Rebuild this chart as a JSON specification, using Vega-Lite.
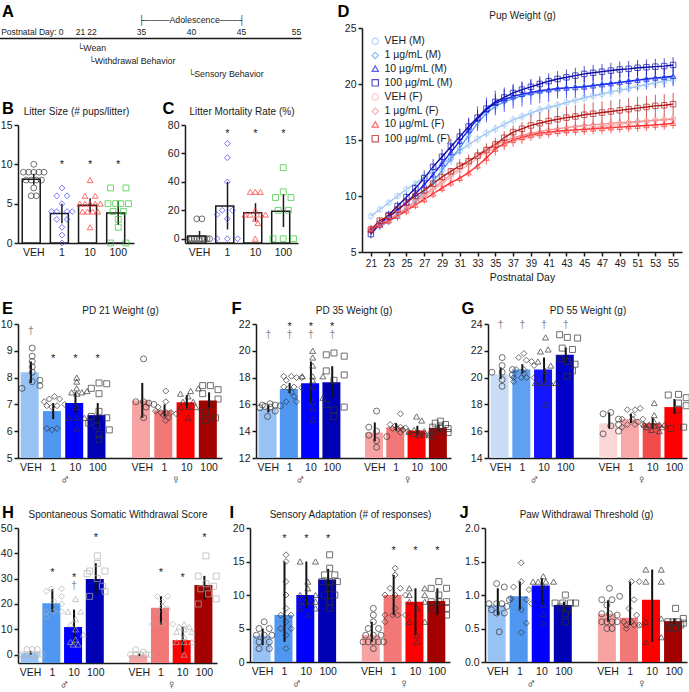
{
"$schema":"https://vega.github.io/schema/vega-lite/v6.json",
"padding":{"left":0,"top":3,"right":0,"bottom":0},
"background":"white",
"config":{
 "font":"Liberation Sans",
 "view":{"stroke":null},
 "axis":{"grid":false,"labelFontSize":10.5,"labelColor":"#1a1a1a","domainColor":"#1a1a1a","tickColor":"#1a1a1a","domainWidth":1.5,"tickWidth":1.5,"tickSize":4,"labelPadding":2,"titleFontWeight":"normal","titleColor":"#1a1a1a","titleFontSize":10.5,"labelOverlap":false},
 "axisY":{"titleAngle":0,"titleFontSize":16.5,"titleFontWeight":"bold","titleAlign":"left","titleBaseline":"top","titleColor":"#000000","labelOverlap":false},
 "axisX":{"ticks":false,"labelPadding":4,"labelAngle":0},
 "legend":{"labelFontSize":10.5,"labelColor":"#1a1a1a","symbolStrokeWidth":1.2,"symbolSize":40,"rowPadding":2.2,"padding":0,"offset":8}
},
"datasets":{
 "tl":[{"d":21,"t":"└Wean"},{"d":22,"t":"└Withdrawal Behavior"},{"d":40,"t":"└Sensory Behavior"}],
 "Bs":[{"g":"VEH","m":8.1,"lo":7.4,"hi":8.8},{"g":"1","m":3.75,"lo":2.5,"hi":5.0},{"g":"10","m":4.8,"lo":3.9,"hi":5.7},{"g":"100","m":3.8,"lo":2.3,"hi":5.3}],
 "Bp":[{"g":"VEH","v":10,"k":4},{"g":"VEH","v":9,"k":0},{"g":"VEH","v":9,"k":2},{"g":"VEH","v":9,"k":4},{"g":"VEH","v":9,"k":6},{"g":"VEH","v":9,"k":8},{"g":"VEH","v":8,"k":1},{"g":"VEH","v":8,"k":3},{"g":"VEH","v":8,"k":5},{"g":"VEH","v":8,"k":7},{"g":"VEH","v":7,"k":4},{"g":"VEH","v":6,"k":3},{"g":"VEH","v":6,"k":5},
  {"g":"1","v":7,"k":4},{"g":"1","v":6,"k":2},{"g":"1","v":6,"k":6},{"g":"1","v":5,"k":4},{"g":"1","v":4,"k":0},{"g":"1","v":4,"k":2},{"g":"1","v":4,"k":6},{"g":"1","v":4,"k":8},{"g":"1","v":3,"k":2},{"g":"1","v":3,"k":6},{"g":"1","v":2,"k":4},{"g":"1","v":1,"k":4},{"g":"1","v":0,"k":4},
  {"g":"10","v":8,"k":4},{"g":"10","v":6,"k":2},{"g":"10","v":6,"k":6},{"g":"10","v":5,"k":0},{"g":"10","v":5,"k":2},{"g":"10","v":5,"k":4},{"g":"10","v":5,"k":6},{"g":"10","v":5,"k":8},{"g":"10","v":4,"k":1},{"g":"10","v":4,"k":3},{"g":"10","v":4,"k":5},{"g":"10","v":4,"k":7},{"g":"10","v":2,"k":4},
  {"g":"100","v":7,"k":1},{"g":"100","v":7,"k":7},{"g":"100","v":5,"k":0},{"g":"100","v":5,"k":3},{"g":"100","v":5,"k":5},{"g":"100","v":5,"k":8},{"g":"100","v":4,"k":2},{"g":"100","v":4,"k":6},{"g":"100","v":3,"k":4},{"g":"100","v":2,"k":4},{"g":"100","v":0,"k":1},{"g":"100","v":0,"k":7}],
 "Bm":[{"g":"1","t":"*","y":9.9},{"g":"10","t":"*","y":9.9},{"g":"100","t":"*","y":9.9}],
 "Cs":[{"g":"VEH","m":2.0,"lo":0,"hi":5.5},{"g":"1","m":23,"lo":6.5,"hi":40},{"g":"10","m":18.2,"lo":12.3,"hi":25},{"g":"100","m":19.3,"lo":8.2,"hi":31.5}],
 "Cp":[{"g":"VEH","v":0,"k":0},{"g":"VEH","v":0,"k":1},{"g":"VEH","v":0,"k":2},{"g":"VEH","v":0,"k":3},{"g":"VEH","v":0,"k":4},{"g":"VEH","v":0,"k":5},{"g":"VEH","v":0,"k":6},{"g":"VEH","v":0,"k":7},{"g":"VEH","v":0,"k":8},{"g":"VEH","v":14,"k":3},{"g":"VEH","v":14,"k":5},
  {"g":"1","v":67,"k":4},{"g":"1","v":57,"k":4},{"g":"1","v":40,"k":4},{"g":"1","v":20,"k":2},{"g":"1","v":20,"k":6},{"g":"1","v":17,"k":0},{"g":"1","v":14,"k":4},{"g":"1","v":0,"k":0},{"g":"1","v":0,"k":4},{"g":"1","v":0,"k":8},
  {"g":"10","v":33,"k":2},{"g":"10","v":33,"k":4},{"g":"10","v":33,"k":6},{"g":"10","v":20,"k":4},{"g":"10","v":17,"k":0},{"g":"10","v":17,"k":2},{"g":"10","v":17,"k":6},{"g":"10","v":17,"k":8},{"g":"10","v":14,"k":4},{"g":"10","v":11,"k":5},{"g":"10","v":0,"k":4},
  {"g":"100","v":50,"k":4},{"g":"100","v":33,"k":4},{"g":"100","v":29,"k":1},{"g":"100","v":29,"k":7},{"g":"100","v":20,"k":2},{"g":"100","v":20,"k":6},{"g":"100","v":0,"k":0},{"g":"100","v":0,"k":4},{"g":"100","v":0,"k":8}],
 "Cm":[{"g":"1","t":"*","y":74},{"g":"10","t":"*","y":74},{"g":"100","t":"*","y":74}],
 "Es":[{"g":"M|VEH","m":8.2,"lo":7.8,"hi":8.6},{"g":"M|1","m":6.75,"lo":6.45,"hi":7.05},{"g":"M|10","m":7.05,"lo":6.65,"hi":7.45},{"g":"M|100","m":6.6,"lo":6.15,"hi":7.05},{"g":"F|VEH","m":7.15,"lo":6.5,"hi":7.8},{"g":"F|1","m":6.78,"lo":6.55,"hi":7.0},{"g":"F|10","m":7.08,"lo":6.85,"hi":7.35},{"g":"F|100","m":7.15,"lo":6.85,"hi":7.45}],
 "Ep":[{"g":"M|VEH","v":9.1,"k":4},{"g":"M|VEH","v":8.8,"k":4},{"g":"M|VEH","v":8.6,"k":4},{"g":"M|VEH","v":8.4,"k":4},{"g":"M|VEH","v":8.2,"k":4},{"g":"M|VEH","v":7.85,"k":4},{"g":"M|VEH","v":7.9,"k":7},{"g":"M|VEH","v":7.7,"k":7},{"g":"M|VEH","v":7.6,"k":0},
  {"g":"M|1","v":7.3,"k":4},{"g":"M|1","v":7.2,"k":2},{"g":"M|1","v":7.2,"k":6},{"g":"M|1","v":7.1,"k":0},{"g":"M|1","v":7.0,"k":8},{"g":"M|1","v":6.95,"k":1},{"g":"M|1","v":6.95,"k":5},{"g":"M|1","v":6.9,"k":3},{"g":"M|1","v":6.1,"k":1},{"g":"M|1","v":6.05,"k":3},{"g":"M|1","v":6.1,"k":5},
  {"g":"M|10","v":8.0,"k":4},{"g":"M|10","v":7.85,"k":4},{"g":"M|10","v":7.6,"k":4},{"g":"M|10","v":7.45,"k":2},{"g":"M|10","v":7.4,"k":4},{"g":"M|10","v":7.45,"k":6},{"g":"M|10","v":7.5,"k":8},{"g":"M|10","v":6.9,"k":4},{"g":"M|10","v":6.5,"k":1},{"g":"M|10","v":6.5,"k":4},{"g":"M|10","v":6.5,"k":7},{"g":"M|10","v":6.1,"k":4},
  {"g":"M|100","v":7.8,"k":4},{"g":"M|100","v":7.77,"k":7},{"g":"M|100","v":7.6,"k":1},{"g":"M|100","v":7.4,"k":4},{"g":"M|100","v":6.74,"k":4},{"g":"M|100","v":6.55,"k":1},{"g":"M|100","v":6.5,"k":7},{"g":"M|100","v":6.3,"k":0},{"g":"M|100","v":6.2,"k":3},{"g":"M|100","v":6.05,"k":8},{"g":"M|100","v":5.87,"k":4},{"g":"M|100","v":5.7,"k":4},
  {"g":"F|VEH","v":8.7,"k":4},{"g":"F|VEH","v":7.1,"k":1},{"g":"F|VEH","v":7.1,"k":4},{"g":"F|VEH","v":7.05,"k":6},{"g":"F|VEH","v":7.0,"k":8},{"g":"F|VEH","v":6.9,"k":5},{"g":"F|VEH","v":6.5,"k":4},
  {"g":"F|1","v":7.5,"k":4},{"g":"F|1","v":7.1,"k":4},{"g":"F|1","v":6.9,"k":1},{"g":"F|1","v":6.75,"k":0},{"g":"F|1","v":6.7,"k":2},{"g":"F|1","v":6.7,"k":4},{"g":"F|1","v":6.7,"k":6},{"g":"F|1","v":6.65,"k":8},{"g":"F|1","v":6.6,"k":3},{"g":"F|1","v":6.5,"k":5},{"g":"F|1","v":6.4,"k":4},
  {"g":"F|10","v":7.6,"k":8},{"g":"F|10","v":7.5,"k":5},{"g":"F|10","v":7.4,"k":1},{"g":"F|10","v":7.3,"k":4},{"g":"F|10","v":7.1,"k":2},{"g":"F|10","v":7.1,"k":6},{"g":"F|10","v":6.9,"k":1},{"g":"F|10","v":6.9,"k":4},{"g":"F|10","v":6.9,"k":7},{"g":"F|10","v":6.5,"k":4},
  {"g":"F|100","v":7.7,"k":1},{"g":"F|100","v":7.7,"k":4},{"g":"F|100","v":7.55,"k":7},{"g":"F|100","v":7.4,"k":1},{"g":"F|100","v":7.2,"k":7},{"g":"F|100","v":7.0,"k":4},{"g":"F|100","v":6.7,"k":2},{"g":"F|100","v":6.5,"k":6},{"g":"F|100","v":6.4,"k":2}],
 "Em":[{"g":"M|VEH","t":"†","y":9.73},{"g":"M|1","t":"*","y":8.7},{"g":"M|10","t":"*","y":8.7},{"g":"M|100","t":"*","y":8.7}],
 "Fs":[{"g":"M|VEH","m":15.65,"lo":15.4,"hi":15.95},{"g":"M|1","m":17.15,"lo":16.85,"hi":17.6},{"g":"M|10","m":17.57,"lo":16.1,"hi":19.2},{"g":"M|100","m":17.65,"lo":16.5,"hi":18.85},{"g":"F|VEH","m":13.9,"lo":13.25,"hi":14.65},{"g":"F|1","m":14.3,"lo":14.05,"hi":14.6},{"g":"F|10","m":14.05,"lo":13.75,"hi":14.4},{"g":"F|100","m":14.25,"lo":14.0,"hi":14.5}],
 "Fp":[{"g":"M|VEH","v":16.05,"k":4},{"g":"M|VEH","v":15.95,"k":1},{"g":"M|VEH","v":15.95,"k":6},{"g":"M|VEH","v":15.9,"k":8},{"g":"M|VEH","v":15.85,"k":2},{"g":"M|VEH","v":15.8,"k":4},{"g":"M|VEH","v":15.75,"k":0},{"g":"M|VEH","v":15.5,"k":6},{"g":"M|VEH","v":15.1,"k":3},
  {"g":"M|1","v":18.1,"k":1},{"g":"M|1","v":18.1,"k":4},{"g":"M|1","v":18.0,"k":6},{"g":"M|1","v":18.0,"k":8},{"g":"M|1","v":17.8,"k":2},{"g":"M|1","v":17.3,"k":1},{"g":"M|1","v":17.3,"k":5},{"g":"M|1","v":17.25,"k":8},{"g":"M|1","v":17.2,"k":3},{"g":"M|1","v":16.9,"k":4},{"g":"M|1","v":16.6,"k":5},{"g":"M|1","v":16.2,"k":2},{"g":"M|1","v":16.2,"k":6},
  {"g":"M|10","v":20.0,"k":4},{"g":"M|10","v":19.5,"k":4},{"g":"M|10","v":18.9,"k":4},{"g":"M|10","v":18.1,"k":0},{"g":"M|10","v":18.1,"k":4},{"g":"M|10","v":18.1,"k":8},{"g":"M|10","v":17.8,"k":4},{"g":"M|10","v":17.3,"k":4},{"g":"M|10","v":16.5,"k":8},{"g":"M|10","v":16.2,"k":4},{"g":"M|10","v":15.7,"k":4},{"g":"M|10","v":14.85,"k":4},
  {"g":"M|100","v":19.84,"k":4},{"g":"M|100","v":19.7,"k":1},{"g":"M|100","v":19.6,"k":8},{"g":"M|100","v":18.5,"k":1},{"g":"M|100","v":18.2,"k":8},{"g":"M|100","v":17.8,"k":4},{"g":"M|100","v":15.98,"k":1},{"g":"M|100","v":15.8,"k":8},{"g":"M|100","v":15.6,"k":4},{"g":"M|100","v":15.1,"k":4},
  {"g":"F|VEH","v":15.5,"k":4},{"g":"F|VEH","v":14.3,"k":1},{"g":"F|VEH","v":14.0,"k":4},{"g":"F|VEH","v":13.7,"k":1},{"g":"F|VEH","v":13.6,"k":8},{"g":"F|VEH","v":13.3,"k":4},{"g":"F|VEH","v":12.8,"k":4},
  {"g":"F|1","v":15.3,"k":5},{"g":"F|1","v":14.5,"k":1},{"g":"F|1","v":14.4,"k":3},{"g":"F|1","v":14.3,"k":5},{"g":"F|1","v":14.25,"k":7},{"g":"F|1","v":14.2,"k":2},{"g":"F|1","v":14.15,"k":4},{"g":"F|1","v":14.1,"k":6},{"g":"F|1","v":14.0,"k":8},{"g":"F|1","v":13.9,"k":5},
  {"g":"F|10","v":15.1,"k":3},{"g":"F|10","v":14.8,"k":5},{"g":"F|10","v":14.1,"k":2},{"g":"F|10","v":14.0,"k":6},{"g":"F|10","v":13.95,"k":0},{"g":"F|10","v":13.9,"k":4},{"g":"F|10","v":13.85,"k":8},{"g":"F|10","v":13.8,"k":2},{"g":"F|10","v":13.75,"k":6},{"g":"F|10","v":13.7,"k":4},{"g":"F|10","v":13.7,"k":8},
  {"g":"F|100","v":14.75,"k":4},{"g":"F|100","v":14.6,"k":2},{"g":"F|100","v":14.5,"k":6},{"g":"F|100","v":14.4,"k":4},{"g":"F|100","v":14.3,"k":1},{"g":"F|100","v":14.2,"k":7},{"g":"F|100","v":14.2,"k":4},{"g":"F|100","v":14.0,"k":2},{"g":"F|100","v":13.9,"k":7},{"g":"F|100","v":13.6,"k":1}],
 "Fm":[{"g":"M|VEH","t":"†","y":21.15},{"g":"M|1","t":"†","y":21.15},{"g":"M|10","t":"†","y":21.15},{"g":"M|100","t":"†","y":21.15},{"g":"M|1","t":"*","y":21.8},{"g":"M|10","t":"*","y":21.8},{"g":"M|100","t":"*","y":21.8}],
 "Gs":[{"g":"M|VEH","m":20.25,"lo":19.9,"hi":20.75},{"g":"M|1","m":20.6,"lo":20.3,"hi":21.0},{"g":"M|10","m":20.6,"lo":19.6,"hi":21.5},{"g":"M|100","m":21.7,"lo":21.1,"hi":22.25},{"g":"F|VEH","m":16.6,"lo":16.2,"hi":17.4},{"g":"F|1","m":16.9,"lo":16.6,"hi":17.3},{"g":"F|10","m":16.6,"lo":16.2,"hi":17.0},{"g":"F|100","m":17.8,"lo":17.3,"hi":18.4}],
 "Gp":[{"g":"M|VEH","v":21.5,"k":4},{"g":"M|VEH","v":20.9,"k":4},{"g":"M|VEH","v":20.6,"k":8},{"g":"M|VEH","v":20.4,"k":0},{"g":"M|VEH","v":20.4,"k":4},{"g":"M|VEH","v":20.2,"k":8},{"g":"M|VEH","v":19.85,"k":4},{"g":"M|VEH","v":19.35,"k":4},
  {"g":"M|1","v":21.8,"k":4},{"g":"M|1","v":21.5,"k":2},{"g":"M|1","v":21.3,"k":5},{"g":"M|1","v":21.2,"k":7},{"g":"M|1","v":20.9,"k":8},{"g":"M|1","v":20.6,"k":1},{"g":"M|1","v":20.6,"k":4},{"g":"M|1","v":20.3,"k":4},{"g":"M|1","v":20.0,"k":0},{"g":"M|1","v":20.0,"k":3},{"g":"M|1","v":20.0,"k":5},{"g":"M|1","v":20.0,"k":8},{"g":"M|1","v":19.7,"k":0},
  {"g":"M|10","v":23.0,"k":4},{"g":"M|10","v":22.1,"k":5},{"g":"M|10","v":21.95,"k":2},{"g":"M|10","v":21.2,"k":1},{"g":"M|10","v":20.9,"k":6},{"g":"M|10","v":20.5,"k":4},{"g":"M|10","v":19.6,"k":0},{"g":"M|10","v":19.6,"k":2},{"g":"M|10","v":19.6,"k":4},{"g":"M|10","v":19.6,"k":6},{"g":"M|10","v":19.6,"k":8},{"g":"M|10","v":18.0,"k":4},
  {"g":"M|100","v":23.2,"k":1},{"g":"M|100","v":23.0,"k":4},{"g":"M|100","v":22.95,"k":8},{"g":"M|100","v":22.2,"k":2},{"g":"M|100","v":22.1,"k":6},{"g":"M|100","v":21.4,"k":1},{"g":"M|100","v":21.2,"k":4},{"g":"M|100","v":21.0,"k":7},{"g":"M|100","v":20.5,"k":6},{"g":"M|100","v":20.1,"k":4},
  {"g":"F|VEH","v":17.4,"k":4},{"g":"F|VEH","v":17.3,"k":1},{"g":"F|VEH","v":16.9,"k":7},{"g":"F|VEH","v":16.5,"k":7},{"g":"F|VEH","v":16.4,"k":4},{"g":"F|VEH","v":16.0,"k":7},{"g":"F|VEH","v":15.8,"k":1},
  {"g":"F|1","v":17.7,"k":7},{"g":"F|1","v":17.6,"k":2},{"g":"F|1","v":17.6,"k":5},{"g":"F|1","v":17.2,"k":4},{"g":"F|1","v":16.9,"k":0},{"g":"F|1","v":16.9,"k":4},{"g":"F|1","v":16.9,"k":8},{"g":"F|1","v":16.7,"k":6},{"g":"F|1","v":16.5,"k":2},{"g":"F|1","v":16.5,"k":5},{"g":"F|1","v":16.5,"k":8},{"g":"F|1","v":16.3,"k":0},
  {"g":"F|10","v":18.1,"k":4},{"g":"F|10","v":17.2,"k":4},{"g":"F|10","v":16.7,"k":4},{"g":"F|10","v":16.5,"k":0},{"g":"F|10","v":16.5,"k":2},{"g":"F|10","v":16.5,"k":6},{"g":"F|10","v":16.5,"k":8},{"g":"F|10","v":16.4,"k":4},{"g":"F|10","v":16.3,"k":1},{"g":"F|10","v":16.3,"k":7},{"g":"F|10","v":16.1,"k":3},{"g":"F|10","v":16.0,"k":6},
  {"g":"F|100","v":18.75,"k":5},{"g":"F|100","v":18.7,"k":1},{"g":"F|100","v":18.5,"k":8},{"g":"F|100","v":18.1,"k":5},{"g":"F|100","v":17.9,"k":8},{"g":"F|100","v":17.6,"k":5},{"g":"F|100","v":16.2,"k":2},{"g":"F|100","v":16.3,"k":7}],
 "Gm":[{"g":"M|VEH","t":"†","y":23.9},{"g":"M|1","t":"†","y":23.9},{"g":"M|10","t":"†","y":23.9},{"g":"M|100","t":"†","y":23.9}],
 "Hs":[{"g":"M|VEH","m":0.6,"lo":0,"hi":1.5},{"g":"M|1","m":20.3,"lo":16.8,"hi":25.8},{"g":"M|10","m":10.9,"lo":3.6,"hi":17.8},{"g":"M|100","m":29.9,"lo":23.8,"hi":36.1},{"g":"F|VEH","m":-0.2,"lo":-0.5,"hi":0.4},{"g":"F|1","m":18.5,"lo":11.9,"hi":23.1},{"g":"F|10","m":5.7,"lo":0.9,"hi":11.0},{"g":"F|100","m":27.5,"lo":21.8,"hi":31.1}],
 "Hp":[{"g":"M|VEH","v":2,"k":2},{"g":"M|VEH","v":2,"k":4},{"g":"M|VEH","v":2,"k":6},{"g":"M|VEH","v":0,"k":0},{"g":"M|VEH","v":0,"k":2},{"g":"M|VEH","v":0,"k":4},{"g":"M|VEH","v":0,"k":6},{"g":"M|VEH","v":0,"k":8},
  {"g":"M|1","v":25,"k":1},{"g":"M|1","v":26,"k":3},{"g":"M|1","v":26,"k":7},{"g":"M|1","v":23,"k":7},{"g":"M|1","v":21,"k":4},{"g":"M|1","v":20,"k":7},{"g":"M|1","v":17,"k":1},{"g":"M|1","v":17,"k":4},{"g":"M|1","v":17,"k":7},{"g":"M|1","v":15,"k":1},
  {"g":"M|10","v":22,"k":4},{"g":"M|10","v":17,"k":1},{"g":"M|10","v":17,"k":6},{"g":"M|10","v":14,"k":4},{"g":"M|10","v":12,"k":2},{"g":"M|10","v":10,"k":4},{"g":"M|10","v":8,"k":7},{"g":"M|10","v":6,"k":4},{"g":"M|10","v":5,"k":2},{"g":"M|10","v":4,"k":5},{"g":"M|10","v":4,"k":3},
  {"g":"M|100","v":39,"k":4},{"g":"M|100","v":36,"k":4},{"g":"M|100","v":33,"k":1},{"g":"M|100","v":33,"k":7},{"g":"M|100","v":32,"k":0},{"g":"M|100","v":30,"k":4},{"g":"M|100","v":27,"k":6},{"g":"M|100","v":25,"k":7},{"g":"M|100","v":23,"k":1},
  {"g":"F|VEH","v":2,"k":2},{"g":"F|VEH","v":1,"k":5},{"g":"F|VEH","v":0,"k":0},{"g":"F|VEH","v":0,"k":2},{"g":"F|VEH","v":0,"k":4},{"g":"F|VEH","v":0,"k":6},{"g":"F|VEH","v":0,"k":8},
  {"g":"F|1","v":23,"k":2},{"g":"F|1","v":23,"k":6},{"g":"F|1","v":21,"k":4},{"g":"F|1","v":19,"k":4},{"g":"F|1","v":18,"k":6},{"g":"F|1","v":17,"k":2},{"g":"F|1","v":12,"k":0},{"g":"F|1","v":12,"k":4},{"g":"F|1","v":12,"k":8},
  {"g":"F|10","v":12,"k":4},{"g":"F|10","v":11,"k":2},{"g":"F|10","v":11,"k":6},{"g":"F|10","v":10,"k":4},{"g":"F|10","v":9,"k":1},{"g":"F|10","v":9,"k":7},{"g":"F|10","v":7,"k":4},{"g":"F|10","v":5,"k":1},{"g":"F|10","v":5,"k":4},{"g":"F|10","v":5,"k":7},{"g":"F|10","v":0,"k":4},
  {"g":"F|100","v":39,"k":4},{"g":"F|100","v":31,"k":1},{"g":"F|100","v":31,"k":8},{"g":"F|100","v":28,"k":4},{"g":"F|100","v":27,"k":7},{"g":"F|100","v":26,"k":2},{"g":"F|100","v":24,"k":5},{"g":"F|100","v":22,"k":8},{"g":"F|100","v":20,"k":1}],
 "Hm":[{"g":"M|1","t":"*","y":32.1},{"g":"M|10","t":"*","y":30.4},{"g":"M|10","t":"†","y":27.1},{"g":"M|100","t":"*","y":46},{"g":"F|1","t":"*","y":32.1},{"g":"F|10","t":"*","y":30.4},{"g":"F|100","t":"*","y":46}],
 "Is":[{"g":"M|VEH","m":3.9,"lo":2.5,"hi":5.0},{"g":"M|1","m":7.0,"lo":3.0,"hi":15.0},{"g":"M|10","m":10.0,"lo":8.0,"hi":15.0},{"g":"M|100","m":12.3,"lo":9.4,"hi":13.9},{"g":"F|VEH","m":4.0,"lo":3.0,"hi":6.0},{"g":"F|1","m":10.0,"lo":7.0,"hi":13.0},{"g":"F|10","m":9.0,"lo":4.0,"hi":11.0},{"g":"F|100","m":9.1,"lo":7.0,"hi":11.0}],
 "Ip":[{"g":"M|VEH","v":6,"k":4},{"g":"M|VEH","v":5,"k":2},{"g":"M|VEH","v":5,"k":6},{"g":"M|VEH","v":4,"k":1},{"g":"M|VEH","v":4,"k":4},{"g":"M|VEH","v":4,"k":7},{"g":"M|VEH","v":3,"k":2},{"g":"M|VEH","v":3,"k":6},{"g":"M|VEH","v":2,"k":2},{"g":"M|VEH","v":2,"k":6},
  {"g":"M|1","v":16,"k":4},{"g":"M|1","v":15,"k":4},{"g":"M|1","v":12,"k":4},{"g":"M|1","v":10,"k":4},{"g":"M|1","v":8,"k":4},{"g":"M|1","v":7,"k":2},{"g":"M|1","v":7,"k":6},{"g":"M|1","v":6,"k":4},{"g":"M|1","v":5,"k":2},{"g":"M|1","v":5,"k":6},{"g":"M|1","v":4,"k":4},{"g":"M|1","v":2,"k":4},
  {"g":"M|10","v":15,"k":1},{"g":"M|10","v":15,"k":7},{"g":"M|10","v":12,"k":4},{"g":"M|10","v":11,"k":4},{"g":"M|10","v":10,"k":1},{"g":"M|10","v":10,"k":7},{"g":"M|10","v":9,"k":1},{"g":"M|10","v":9,"k":3},{"g":"M|10","v":9,"k":5},{"g":"M|10","v":9,"k":7},{"g":"M|10","v":8,"k":1},{"g":"M|10","v":8,"k":7},{"g":"M|10","v":7,"k":4},
  {"g":"M|100","v":16,"k":4},{"g":"M|100","v":14,"k":4},{"g":"M|100","v":13,"k":2},{"g":"M|100","v":13,"k":6},{"g":"M|100","v":12,"k":1},{"g":"M|100","v":12,"k":4},{"g":"M|100","v":12,"k":7},{"g":"M|100","v":11,"k":4},{"g":"M|100","v":10,"k":2},{"g":"M|100","v":10,"k":6},{"g":"M|100","v":9,"k":4},{"g":"M|100","v":8,"k":4},
  {"g":"F|VEH","v":8,"k":4},{"g":"F|VEH","v":7,"k":4},{"g":"F|VEH","v":6,"k":4},{"g":"F|VEH","v":5,"k":2},{"g":"F|VEH","v":5,"k":6},{"g":"F|VEH","v":4,"k":1},{"g":"F|VEH","v":4,"k":4},{"g":"F|VEH","v":4,"k":7},{"g":"F|VEH","v":3,"k":0},{"g":"F|VEH","v":3,"k":2},{"g":"F|VEH","v":3,"k":4},{"g":"F|VEH","v":3,"k":6},{"g":"F|VEH","v":3,"k":8},{"g":"F|VEH","v":2,"k":4},
  {"g":"F|1","v":14,"k":4},{"g":"F|1","v":13,"k":4},{"g":"F|1","v":11,"k":2},{"g":"F|1","v":11,"k":6},{"g":"F|1","v":10,"k":0},{"g":"F|1","v":10,"k":4},{"g":"F|1","v":10,"k":8},{"g":"F|1","v":8,"k":4},{"g":"F|1","v":7,"k":0},{"g":"F|1","v":7,"k":3},{"g":"F|1","v":7,"k":5},{"g":"F|1","v":7,"k":8},{"g":"F|1","v":6,"k":0},
  {"g":"F|10","v":11,"k":1},{"g":"F|10","v":11,"k":7},{"g":"F|10","v":10,"k":1},{"g":"F|10","v":10,"k":7},{"g":"F|10","v":9,"k":1},{"g":"F|10","v":9,"k":7},{"g":"F|10","v":8,"k":4},{"g":"F|10","v":6,"k":1},{"g":"F|10","v":6,"k":7},{"g":"F|10","v":4,"k":4},{"g":"F|10","v":3,"k":4},
  {"g":"F|100","v":12,"k":4},{"g":"F|100","v":11,"k":1},{"g":"F|100","v":11,"k":7},{"g":"F|100","v":10,"k":4},{"g":"F|100","v":9,"k":1},{"g":"F|100","v":9,"k":4},{"g":"F|100","v":9,"k":7},{"g":"F|100","v":8,"k":1},{"g":"F|100","v":8,"k":7},{"g":"F|100","v":7,"k":7}],
 "Im":[{"g":"M|1","t":"*","y":18.4},{"g":"M|10","t":"*","y":18.4},{"g":"M|100","t":"*","y":18.4},{"g":"F|1","t":"*","y":16.5},{"g":"F|10","t":"*","y":16.5},{"g":"F|100","t":"*","y":16.5}],
 "Js":[{"g":"M|VEH","m":0.85,"lo":0.7,"hi":1.1},{"g":"M|1","m":0.98,"lo":0.78,"hi":1.2},{"g":"M|10","m":1.14,"lo":0.85,"hi":1.25},{"g":"M|100","m":0.85,"lo":0.75,"hi":0.9},{"g":"F|VEH","m":0.72,"lo":0.6,"hi":0.92},{"g":"F|1","m":0.66,"lo":0.55,"hi":1.2},{"g":"F|10","m":0.93,"lo":0.3,"hi":1.38},{"g":"F|100","m":0.61,"lo":0.55,"hi":0.65}],
 "Jp":[{"g":"M|VEH","v":1.17,"k":3},{"g":"M|VEH","v":1.12,"k":6},{"g":"M|VEH","v":0.93,"k":8},{"g":"M|VEH","v":0.87,"k":0},{"g":"M|VEH","v":0.87,"k":3},{"g":"M|VEH","v":0.87,"k":5},{"g":"M|VEH","v":0.83,"k":7},{"g":"M|VEH","v":0.78,"k":1},{"g":"M|VEH","v":0.73,"k":3},{"g":"M|VEH","v":0.73,"k":6},{"g":"M|VEH","v":0.45,"k":4},
  {"g":"M|1","v":1.48,"k":4},{"g":"M|1","v":1.2,"k":4},{"g":"M|1","v":1.12,"k":1},{"g":"M|1","v":1.08,"k":7},{"g":"M|1","v":0.95,"k":0},{"g":"M|1","v":0.93,"k":6},{"g":"M|1","v":0.87,"k":8},{"g":"M|1","v":0.78,"k":4},{"g":"M|1","v":0.58,"k":6},{"g":"M|1","v":0.44,"k":4},
  {"g":"M|10","v":1.28,"k":4},{"g":"M|10","v":1.2,"k":0},{"g":"M|10","v":1.2,"k":2},{"g":"M|10","v":1.2,"k":5},{"g":"M|10","v":1.2,"k":8},{"g":"M|10","v":1.13,"k":4},{"g":"M|10","v":0.85,"k":4},{"g":"M|10","v":0.72,"k":4},{"g":"M|10","v":0.58,"k":4},
  {"g":"M|100","v":1.0,"k":4},{"g":"M|100","v":0.88,"k":0},{"g":"M|100","v":0.88,"k":3},{"g":"M|100","v":0.88,"k":6},{"g":"M|100","v":0.88,"k":8},{"g":"M|100","v":0.82,"k":2},{"g":"M|100","v":0.78,"k":5},{"g":"M|100","v":0.72,"k":4},{"g":"M|100","v":0.6,"k":4},
  {"g":"F|VEH","v":1.1,"k":4},{"g":"F|VEH","v":0.98,"k":8},{"g":"F|VEH","v":0.93,"k":1},{"g":"F|VEH","v":0.93,"k":5},{"g":"F|VEH","v":0.85,"k":3},{"g":"F|VEH","v":0.72,"k":1},{"g":"F|VEH","v":0.72,"k":4},{"g":"F|VEH","v":0.7,"k":7},{"g":"F|VEH","v":0.6,"k":1},{"g":"F|VEH","v":0.6,"k":3},{"g":"F|VEH","v":0.6,"k":5},{"g":"F|VEH","v":0.6,"k":7},{"g":"F|VEH","v":0.5,"k":3},{"g":"F|VEH","v":0.5,"k":5},
  {"g":"F|1","v":1.2,"k":4},{"g":"F|1","v":1.2,"k":7},{"g":"F|1","v":0.93,"k":5},{"g":"F|1","v":0.8,"k":3},{"g":"F|1","v":0.7,"k":6},{"g":"F|1","v":0.6,"k":1},{"g":"F|1","v":0.6,"k":4},{"g":"F|1","v":0.55,"k":2},{"g":"F|1","v":0.55,"k":5},{"g":"F|1","v":0.55,"k":7},{"g":"F|1","v":0.55,"k":8},{"g":"F|1","v":0.5,"k":2},
  {"g":"F|10","v":1.38,"k":1},{"g":"F|10","v":1.38,"k":7},{"g":"F|10","v":1.2,"k":1},{"g":"F|10","v":1.2,"k":7},{"g":"F|10","v":0.65,"k":7},{"g":"F|10","v":0.6,"k":1},{"g":"F|10","v":0.37,"k":7},{"g":"F|10","v":0.3,"k":1},
  {"g":"F|100","v":0.8,"k":4},{"g":"F|100","v":0.65,"k":7},{"g":"F|100","v":0.6,"k":1},{"g":"F|100","v":0.6,"k":3},{"g":"F|100","v":0.6,"k":5},{"g":"F|100","v":0.58,"k":7},{"g":"F|100","v":0.55,"k":2},{"g":"F|100","v":0.55,"k":6},{"g":"F|100","v":0.5,"k":1},{"g":"F|100","v":0.5,"k":4}],
 "pw":[
  {"d":21,"s":"a","m":8.2,"e":0.3},{"d":22,"s":"a","m":8.8,"e":0.3},{"d":23,"s":"a","m":9.4,"e":0.3},{"d":24,"s":"a","m":10.0,"e":0.3},{"d":25,"s":"a","m":10.6,"e":0.3},{"d":26,"s":"a","m":11.1,"e":0.3},{"d":27,"s":"a","m":11.7,"e":0.3},{"d":28,"s":"a","m":12.2,"e":0.3},{"d":29,"s":"a","m":12.8,"e":0.3},{"d":30,"s":"a","m":13.4,"e":0.3},{"d":31,"s":"a","m":14.0,"e":0.4},{"d":32,"s":"a","m":14.6,"e":0.4},{"d":33,"s":"a","m":15.1,"e":0.4},{"d":34,"s":"a","m":15.6,"e":0.4},{"d":35,"s":"a","m":16.0,"e":0.4},{"d":36,"s":"a","m":16.4,"e":0.4},{"d":37,"s":"a","m":16.8,"e":0.4},{"d":38,"s":"a","m":17.1,"e":0.4},{"d":39,"s":"a","m":17.4,"e":0.4},{"d":40,"s":"a","m":17.7,"e":0.4},{"d":41,"s":"a","m":17.9,"e":0.4},{"d":42,"s":"a","m":18.1,"e":0.4},{"d":43,"s":"a","m":18.35,"e":0.4},{"d":44,"s":"a","m":18.55,"e":0.4},{"d":45,"s":"a","m":18.75,"e":0.4},{"d":46,"s":"a","m":18.95,"e":0.5},{"d":47,"s":"a","m":19.1,"e":0.5},{"d":48,"s":"a","m":19.3,"e":0.5},{"d":49,"s":"a","m":19.45,"e":0.5},{"d":50,"s":"a","m":19.6,"e":0.5},{"d":51,"s":"a","m":19.8,"e":0.5},{"d":52,"s":"a","m":19.95,"e":0.5},{"d":53,"s":"a","m":20.1,"e":0.5},{"d":54,"s":"a","m":20.25,"e":0.5},{"d":55,"s":"a","m":20.4,"e":0.5},
  {"d":21,"s":"b","m":7.0,"e":0.3},{"d":22,"s":"b","m":7.3,"e":0.3},{"d":23,"s":"b","m":7.7,"e":0.3},{"d":24,"s":"b","m":8.2,"e":0.3},{"d":25,"s":"b","m":8.8,"e":0.3},{"d":26,"s":"b","m":9.6,"e":0.3},{"d":27,"s":"b","m":10.4,"e":0.5},{"d":28,"s":"b","m":11.3,"e":0.5},{"d":29,"s":"b","m":12.3,"e":0.5},{"d":30,"s":"b","m":13.3,"e":0.5},{"d":31,"s":"b","m":14.3,"e":0.5},{"d":32,"s":"b","m":15.4,"e":0.5},{"d":33,"s":"b","m":16.5,"e":0.5},{"d":34,"s":"b","m":17.4,"e":0.5},{"d":35,"s":"b","m":18.0,"e":0.6},{"d":36,"s":"b","m":18.4,"e":0.6},{"d":37,"s":"b","m":18.7,"e":0.6},{"d":38,"s":"b","m":18.95,"e":0.6},{"d":39,"s":"b","m":19.15,"e":0.6},{"d":40,"s":"b","m":19.3,"e":0.6},{"d":41,"s":"b","m":19.45,"e":0.6},{"d":42,"s":"b","m":19.55,"e":0.6},{"d":43,"s":"b","m":19.65,"e":0.6},{"d":44,"s":"b","m":19.7,"e":0.6},{"d":45,"s":"b","m":19.75,"e":0.6},{"d":46,"s":"b","m":19.85,"e":0.6},{"d":47,"s":"b","m":19.95,"e":0.6},{"d":48,"s":"b","m":20.05,"e":0.6},{"d":49,"s":"b","m":20.15,"e":0.6},{"d":50,"s":"b","m":20.25,"e":0.6},{"d":51,"s":"b","m":20.35,"e":0.6},{"d":52,"s":"b","m":20.45,"e":0.6},{"d":53,"s":"b","m":20.5,"e":0.6},{"d":54,"s":"b","m":20.55,"e":0.6},{"d":55,"s":"b","m":20.6,"e":0.6},
  {"d":21,"s":"c","m":7.0,"e":0.4},{"d":22,"s":"c","m":7.5,"e":0.4},{"d":23,"s":"c","m":8.1,"e":0.4},{"d":24,"s":"c","m":8.7,"e":0.4},{"d":25,"s":"c","m":9.4,"e":0.4},{"d":26,"s":"c","m":10.2,"e":0.4},{"d":27,"s":"c","m":11.0,"e":0.8},{"d":28,"s":"c","m":11.9,"e":0.8},{"d":29,"s":"c","m":12.9,"e":0.8},{"d":30,"s":"c","m":13.9,"e":0.8},{"d":31,"s":"c","m":14.9,"e":1.1},{"d":32,"s":"c","m":15.9,"e":1.1},{"d":33,"s":"c","m":16.9,"e":1.1},{"d":34,"s":"c","m":17.7,"e":1.1},{"d":35,"s":"c","m":18.3,"e":1.1},{"d":36,"s":"c","m":18.6,"e":1.1},{"d":37,"s":"c","m":18.9,"e":1.1},{"d":38,"s":"c","m":19.1,"e":1.1},{"d":39,"s":"c","m":19.25,"e":1.1},{"d":40,"s":"c","m":19.4,"e":1.1},{"d":41,"s":"c","m":19.5,"e":1.1},{"d":42,"s":"c","m":19.6,"e":0.9},{"d":43,"s":"c","m":19.65,"e":0.9},{"d":44,"s":"c","m":19.7,"e":0.9},{"d":45,"s":"c","m":19.75,"e":0.9},{"d":46,"s":"c","m":19.85,"e":0.9},{"d":47,"s":"c","m":19.95,"e":0.9},{"d":48,"s":"c","m":20.05,"e":0.9},{"d":49,"s":"c","m":20.15,"e":0.9},{"d":50,"s":"c","m":20.25,"e":0.9},{"d":51,"s":"c","m":20.35,"e":0.9},{"d":52,"s":"c","m":20.45,"e":0.9},{"d":53,"s":"c","m":20.55,"e":0.9},{"d":54,"s":"c","m":20.6,"e":0.9},{"d":55,"s":"c","m":20.7,"e":0.9},
  {"d":21,"s":"d","m":6.6,"e":0.4},{"d":22,"s":"d","m":7.5,"e":0.4},{"d":23,"s":"d","m":8.3,"e":0.4},{"d":24,"s":"d","m":9.1,"e":0.4},{"d":25,"s":"d","m":9.9,"e":0.4},{"d":26,"s":"d","m":10.7,"e":0.4},{"d":27,"s":"d","m":11.6,"e":0.7},{"d":28,"s":"d","m":12.6,"e":0.7},{"d":29,"s":"d","m":13.5,"e":0.7},{"d":30,"s":"d","m":14.4,"e":0.7},{"d":31,"s":"d","m":15.3,"e":0.7},{"d":32,"s":"d","m":16.2,"e":0.7},{"d":33,"s":"d","m":17.0,"e":0.7},{"d":34,"s":"d","m":17.8,"e":0.7},{"d":35,"s":"d","m":18.4,"e":0.7},{"d":36,"s":"d","m":18.8,"e":0.7},{"d":37,"s":"d","m":19.2,"e":0.7},{"d":38,"s":"d","m":19.5,"e":0.7},{"d":39,"s":"d","m":19.75,"e":0.7},{"d":40,"s":"d","m":20.0,"e":0.7},{"d":41,"s":"d","m":20.25,"e":0.7},{"d":42,"s":"d","m":20.45,"e":0.7},{"d":43,"s":"d","m":20.6,"e":0.7},{"d":44,"s":"d","m":20.75,"e":0.7},{"d":45,"s":"d","m":20.9,"e":0.7},{"d":46,"s":"d","m":21.0,"e":0.7},{"d":47,"s":"d","m":21.1,"e":0.7},{"d":48,"s":"d","m":21.2,"e":0.7},{"d":49,"s":"d","m":21.3,"e":0.7},{"d":50,"s":"d","m":21.35,"e":0.7},{"d":51,"s":"d","m":21.45,"e":0.7},{"d":52,"s":"d","m":21.5,"e":0.7},{"d":53,"s":"d","m":21.55,"e":0.7},{"d":54,"s":"d","m":21.6,"e":0.7},{"d":55,"s":"d","m":21.7,"e":0.7},
  {"d":21,"s":"e","m":7.1,"e":0.3},{"d":22,"s":"e","m":7.5,"e":0.3},{"d":23,"s":"e","m":7.9,"e":0.3},{"d":24,"s":"e","m":8.4,"e":0.3},{"d":25,"s":"e","m":8.9,"e":0.3},{"d":26,"s":"e","m":9.4,"e":0.3},{"d":27,"s":"e","m":9.9,"e":0.3},{"d":28,"s":"e","m":10.5,"e":0.3},{"d":29,"s":"e","m":11.1,"e":0.3},{"d":30,"s":"e","m":11.7,"e":0.3},{"d":31,"s":"e","m":12.3,"e":0.4},{"d":32,"s":"e","m":12.8,"e":0.4},{"d":33,"s":"e","m":13.4,"e":0.4},{"d":34,"s":"e","m":13.9,"e":0.4},{"d":35,"s":"e","m":14.3,"e":0.4},{"d":36,"s":"e","m":14.6,"e":0.4},{"d":37,"s":"e","m":14.9,"e":0.4},{"d":38,"s":"e","m":15.1,"e":0.4},{"d":39,"s":"e","m":15.3,"e":0.4},{"d":40,"s":"e","m":15.45,"e":0.4},{"d":41,"s":"e","m":15.6,"e":0.4},{"d":42,"s":"e","m":15.7,"e":0.4},{"d":43,"s":"e","m":15.8,"e":0.4},{"d":44,"s":"e","m":15.9,"e":0.4},{"d":45,"s":"e","m":16.0,"e":0.4},{"d":46,"s":"e","m":16.1,"e":0.4},{"d":47,"s":"e","m":16.2,"e":0.4},{"d":48,"s":"e","m":16.3,"e":0.4},{"d":49,"s":"e","m":16.4,"e":0.4},{"d":50,"s":"e","m":16.5,"e":0.4},{"d":51,"s":"e","m":16.6,"e":0.4},{"d":52,"s":"e","m":16.7,"e":0.4},{"d":53,"s":"e","m":16.8,"e":0.4},{"d":54,"s":"e","m":16.85,"e":0.4},{"d":55,"s":"e","m":16.9,"e":0.4},
  {"d":21,"s":"f","m":7.0,"e":0.3},{"d":22,"s":"f","m":7.4,"e":0.3},{"d":23,"s":"f","m":7.9,"e":0.3},{"d":24,"s":"f","m":8.4,"e":0.3},{"d":25,"s":"f","m":8.9,"e":0.3},{"d":26,"s":"f","m":9.5,"e":0.3},{"d":27,"s":"f","m":10.1,"e":0.3},{"d":28,"s":"f","m":10.7,"e":0.3},{"d":29,"s":"f","m":11.3,"e":0.3},{"d":30,"s":"f","m":11.9,"e":0.3},{"d":31,"s":"f","m":12.5,"e":0.4},{"d":32,"s":"f","m":13.1,"e":0.4},{"d":33,"s":"f","m":13.7,"e":0.4},{"d":34,"s":"f","m":14.2,"e":0.4},{"d":35,"s":"f","m":14.6,"e":0.4},{"d":36,"s":"f","m":14.9,"e":0.4},{"d":37,"s":"f","m":15.2,"e":0.4},{"d":38,"s":"f","m":15.4,"e":0.4},{"d":39,"s":"f","m":15.6,"e":0.4},{"d":40,"s":"f","m":15.75,"e":0.4},{"d":41,"s":"f","m":15.9,"e":0.4},{"d":42,"s":"f","m":16.0,"e":0.4},{"d":43,"s":"f","m":16.1,"e":0.4},{"d":44,"s":"f","m":16.2,"e":0.4},{"d":45,"s":"f","m":16.3,"e":0.4},{"d":46,"s":"f","m":16.35,"e":0.4},{"d":47,"s":"f","m":16.4,"e":0.4},{"d":48,"s":"f","m":16.5,"e":0.4},{"d":49,"s":"f","m":16.55,"e":0.4},{"d":50,"s":"f","m":16.6,"e":0.4},{"d":51,"s":"f","m":16.65,"e":0.4},{"d":52,"s":"f","m":16.7,"e":0.4},{"d":53,"s":"f","m":16.75,"e":0.4},{"d":54,"s":"f","m":16.8,"e":0.4},{"d":55,"s":"f","m":16.85,"e":0.4},
  {"d":21,"s":"g","m":7.0,"e":0.4},{"d":22,"s":"g","m":7.4,"e":0.4},{"d":23,"s":"g","m":7.8,"e":0.4},{"d":24,"s":"g","m":8.2,"e":0.4},{"d":25,"s":"g","m":8.7,"e":0.4},{"d":26,"s":"g","m":9.2,"e":0.4},{"d":27,"s":"g","m":9.7,"e":0.4},{"d":28,"s":"g","m":10.2,"e":0.4},{"d":29,"s":"g","m":10.7,"e":0.4},{"d":30,"s":"g","m":11.2,"e":0.4},{"d":31,"s":"g","m":11.6,"e":0.4},{"d":32,"s":"g","m":12.1,"e":0.4},{"d":33,"s":"g","m":12.7,"e":0.4},{"d":34,"s":"g","m":13.4,"e":0.6},{"d":35,"s":"g","m":14.2,"e":0.6},{"d":36,"s":"g","m":14.7,"e":0.6},{"d":37,"s":"g","m":15.0,"e":0.6},{"d":38,"s":"g","m":15.25,"e":0.6},{"d":39,"s":"g","m":15.45,"e":0.5},{"d":40,"s":"g","m":15.6,"e":0.5},{"d":41,"s":"g","m":15.7,"e":0.5},{"d":42,"s":"g","m":15.8,"e":0.5},{"d":43,"s":"g","m":15.85,"e":0.5},{"d":44,"s":"g","m":15.9,"e":0.5},{"d":45,"s":"g","m":15.95,"e":0.5},{"d":46,"s":"g","m":16.0,"e":0.5},{"d":47,"s":"g","m":16.05,"e":0.5},{"d":48,"s":"g","m":16.1,"e":0.5},{"d":49,"s":"g","m":16.15,"e":0.5},{"d":50,"s":"g","m":16.2,"e":0.5},{"d":51,"s":"g","m":16.25,"e":0.5},{"d":52,"s":"g","m":16.3,"e":0.5},{"d":53,"s":"g","m":16.35,"e":0.5},{"d":54,"s":"g","m":16.4,"e":0.5},{"d":55,"s":"g","m":16.5,"e":0.5},
  {"d":21,"s":"h","m":7.0,"e":0.3},{"d":22,"s":"h","m":7.8,"e":0.3},{"d":23,"s":"h","m":8.2,"e":0.3},{"d":24,"s":"h","m":8.8,"e":0.3},{"d":25,"s":"h","m":9.4,"e":0.3},{"d":26,"s":"h","m":10.0,"e":0.3},{"d":27,"s":"h","m":10.5,"e":0.3},{"d":28,"s":"h","m":11.1,"e":0.3},{"d":29,"s":"h","m":11.7,"e":0.3},{"d":30,"s":"h","m":12.2,"e":0.3},{"d":31,"s":"h","m":12.7,"e":0.6},{"d":32,"s":"h","m":13.1,"e":0.6},{"d":33,"s":"h","m":13.6,"e":0.6},{"d":34,"s":"h","m":14.1,"e":0.6},{"d":35,"s":"h","m":14.6,"e":0.6},{"d":36,"s":"h","m":15.2,"e":0.6},{"d":37,"s":"h","m":15.7,"e":0.6},{"d":38,"s":"h","m":16.0,"e":0.6},{"d":39,"s":"h","m":16.3,"e":1.0},{"d":40,"s":"h","m":16.5,"e":1.0},{"d":41,"s":"h","m":16.7,"e":1.0},{"d":42,"s":"h","m":16.85,"e":1.0},{"d":43,"s":"h","m":17.0,"e":1.0},{"d":44,"s":"h","m":17.1,"e":1.0},{"d":45,"s":"h","m":17.25,"e":1.0},{"d":46,"s":"h","m":17.35,"e":1.0},{"d":47,"s":"h","m":17.45,"e":1.0},{"d":48,"s":"h","m":17.55,"e":1.0},{"d":49,"s":"h","m":17.65,"e":1.0},{"d":50,"s":"h","m":17.75,"e":1.0},{"d":51,"s":"h","m":17.85,"e":1.0},{"d":52,"s":"h","m":17.95,"e":1.0},{"d":53,"s":"h","m":18.05,"e":1.0},{"d":54,"s":"h","m":18.1,"e":1.0},{"d":55,"s":"h","m":18.2,"e":1.0}
 ]
},
"resolve":{"scale":{"color":"independent","shape":"independent","x":"independent","y":"independent"}},
"spacing":17,
"vconcat":[
 {"resolve":{"scale":{"color":"independent","shape":"independent","x":"independent","y":"independent"}},
  "spacing":17,
  "hconcat":[
  {"resolve":{"scale":{"color":"independent","shape":"independent","x":"independent","y":"independent"}},
   "spacing":6,
   "vconcat":[
   {"width":283,"height":66,"data":{"name":"tl"},
    "mark":{"type":"text","align":"left","baseline":"middle","fontSize":8.8,"dx":-3,"color":"#1a1a1a"},
    "encoding":{
     "x":{"field":"d","type":"quantitative","scale":{"domain":[-15,0,21,22,35,45,55,56],"range":[-19,45,62,73.5,123,223,278,283],"nice":false,"zero":false},
      "axis":{"orient":"top","offset":-10,"values":[0,21,22,35,40,45,55],"labelExpr":"datum.value==0?'Postnatal Day: 0':datum.label","labelAlign":{"condition":{"test":"datum.value==0","value":"right"},"value":"center"},"labelFontSize":8.5,"labelPadding":2,"labelOverlap":false,"labelFlush":false,"labelBound":false,"ticks":false,"title":"├────Adolescence───┤","titleX":173,"titleY":-19,"titleFontSize":8.8,"titleBaseline":"middle","titleAlign":"center","titleFontWeight":"normal"}},
     "y":{"field":"t","type":"nominal","scale":{"type":"band","paddingInner":0,"paddingOuter":1.6,"domain":["└Wean","└Withdrawal Behavior","└Sensory Behavior"]},"axis":{"domain":false,"ticks":false,"labels":false,"title":"A","titleX":-16.5,"titleY":-25}},
     "text":{"field":"t"}}},
   {"resolve":{"scale":{"color":"independent","shape":"independent","x":"independent","y":"independent"}},
    "spacing":28,
    "hconcat":[
    {"width":116,"height":118,"resolve":{"axis":{"x":"independent"}},
     "layer":[
      {"data":{"name":"Bs"},"mark":{"type":"bar","fill":"white","stroke":"#1a1a1a","strokeWidth":1.5},
       "encoding":{"x":{"field":"g","type":"nominal","scale":{"domain":["VEH","1","10","100"],"paddingInner":0.18,"paddingOuter":0.15},"axis":{"title":null}},
        "y":{"field":"m","type":"quantitative","scale":{"domain":[0,15],"nice":false,"zero":false},"axis":{"values":[0,5,10,15],"labelOverlap":false,"title":"B","titleX":-16.5,"titleY":-25}},
        "y2":{"datum":0}}},
      {"data":{"name":"Bs"},"mark":{"type":"rule","strokeWidth":1.5,"color":"#1a1a1a"},"encoding":{"x":{"field":"g","type":"nominal","axis":{"orient":"top","labels":false,"ticks":false,"domain":false,"title":"Litter Size (# pups/litter)","titlePadding":9,"titleFontSize":10}},"y":{"field":"lo","type":"quantitative","axis":{"values":[0,5,10,15],"labelOverlap":false,"title":"B","titleX":-16.5,"titleY":-25}},"y2":{"field":"hi"}}},
      {"data":{"name":"Bp"},"mark":{"type":"point","filled":false,"size":34,"strokeWidth":1},
       "encoding":{"x":{"field":"g","type":"nominal","axis":null},"xOffset":{"field":"k","type":"nominal","scale":{"domain":[0,1,2,3,4,5,6,7,8]}},"y":{"field":"v","type":"quantitative","axis":{"values":[0,5,10,15],"labelOverlap":false,"title":"B","titleX":-16.5,"titleY":-25}},
        "shape":{"field":"g","type":"nominal","scale":{"domain":["VEH","1","10","100"],"range":["circle","diamond","triangle-up","square"]},"legend":null},
        "color":{"field":"g","type":"nominal","scale":{"domain":["VEH","1","10","100"],"range":["#333333","#3c3cf5","#ff3030","#2fc42f"]},"legend":null}}},
      {"data":{"name":"Bm"},"mark":{"type":"text","fontSize":11,"baseline":"middle","color":"#222222"},"encoding":{"x":{"field":"g","type":"nominal","axis":null},"y":{"field":"y","type":"quantitative","axis":{"values":[0,5,10,15],"labelOverlap":false,"title":"B","titleX":-16.5,"titleY":-25}},"text":{"field":"t"}}}
     ]},
    {"width":113,"height":118,"resolve":{"axis":{"x":"independent"}},
     "layer":[
      {"data":{"name":"Cs"},"mark":{"type":"bar","fill":"white","stroke":"#1a1a1a","strokeWidth":1.5},
       "encoding":{"x":{"field":"g","type":"nominal","scale":{"domain":["VEH","1","10","100"],"paddingInner":0.16,"paddingOuter":0.1},"axis":{"title":null}},
        "y":{"field":"m","type":"quantitative","scale":{"domain":[-3,80],"nice":false,"zero":false},"axis":{"values":[0,20,40,60,80],"labelOverlap":false,"title":"C","titleX":-23,"titleY":-25}},
        "y2":{"datum":-3}}},
      {"data":{"name":"Cs"},"mark":{"type":"rule","strokeWidth":1.5,"color":"#1a1a1a"},"encoding":{"x":{"field":"g","type":"nominal","axis":{"orient":"top","labels":false,"ticks":false,"domain":false,"title":"Litter Mortality Rate (%)","titlePadding":9,"titleFontSize":10}},"y":{"field":"lo","type":"quantitative","axis":{"values":[0,20,40,60,80],"labelOverlap":false,"title":"C","titleX":-23,"titleY":-25}},"y2":{"field":"hi"}}},
      {"data":{"name":"Cp"},"mark":{"type":"point","filled":false,"size":34,"strokeWidth":1},
       "encoding":{"x":{"field":"g","type":"nominal","axis":null},"xOffset":{"field":"k","type":"nominal","scale":{"domain":[0,1,2,3,4,5,6,7,8]}},"y":{"field":"v","type":"quantitative","axis":{"values":[0,20,40,60,80],"labelOverlap":false,"title":"C","titleX":-23,"titleY":-25}},
        "shape":{"field":"g","type":"nominal","scale":{"domain":["VEH","1","10","100"],"range":["circle","diamond","triangle-up","square"]},"legend":null},
        "color":{"field":"g","type":"nominal","scale":{"domain":["VEH","1","10","100"],"range":["#333333","#3c3cf5","#ff3030","#2fc42f"]},"legend":null}}},
      {"data":{"name":"Cm"},"mark":{"type":"text","fontSize":11,"baseline":"middle","color":"#222222"},"encoding":{"x":{"field":"g","type":"nominal","axis":null},"y":{"field":"y","type":"quantitative","axis":{"values":[0,20,40,60,80],"labelOverlap":false,"title":"C","titleX":-23,"titleY":-25}},"text":{"field":"t"}}}
     ]}
   ]}
  ]},
  {"width":320,"height":224,"data":{"name":"pw"},"resolve":{"axis":{"x":"independent"}},
   "layer":[
    {"mark":{"type":"errorbar","ticks":false,"thickness":1,"opacity":0.7},
     "encoding":{
      "x":{"field":"d","type":"quantitative","scale":{"domain":[20,56],"nice":false,"zero":false},"axis":{"values":[21,23,25,27,29,31,33,35,37,39,41,43,45,47,49,51,53,55],"ticks":true,"tickSize":4,"labelPadding":2,"labelFlush":false,"labelFontSize":10,"title":"Postnatal Day","titlePadding":4}},
      "y":{"field":"m","type":"quantitative","scale":{"domain":[5,25],"nice":false,"zero":false},"axis":{"values":[5,10,15,20,25],"labelOverlap":false,"title":"D","titleX":-25,"titleY":-25}},
      "yError":{"field":"e"},
      "color":{"field":"s","type":"nominal","scale":{"domain":["a","b","c","d","e","f","g","h"],"range":["#9dc6f5","#5aa0f0","#1a1af0","#0c0ca8","#f8b4b4","#f59191","#ff2a2a","#b01818"]},
       "legend":{"orient":"top-left","title":null,"offset":8,"labelExpr":"['VEH (M)','1 µg/mL (M)','10 µg/mL (M)','100 µg/mL (M)','VEH (F)','1 µg/mL (F)','10 µg/mL (F)','100 µg/mL (F)'][indexof(['a','b','c','d','e','f','g','h'],datum.value)]"}}}},
    {"mark":{"type":"line","strokeWidth":1.4},
     "encoding":{
      "x":{"field":"d","type":"quantitative","axis":{"orient":"top","labels":false,"ticks":false,"domain":false,"title":"Pup Weight (g)","titlePadding":8,"titleFontSize":10}},
      "y":{"field":"m","type":"quantitative","axis":{"values":[5,10,15,20,25],"labelOverlap":false,"title":"D","titleX":-25,"titleY":-25}},
      "color":{"field":"s","type":"nominal",
       "legend":{"orient":"top-left","title":null,"offset":8,"labelExpr":"['VEH (M)','1 µg/mL (M)','10 µg/mL (M)','100 µg/mL (M)','VEH (F)','1 µg/mL (F)','10 µg/mL (F)','100 µg/mL (F)'][indexof(['a','b','c','d','e','f','g','h'],datum.value)]"}}}},
    {"mark":{"type":"point","filled":false,"size":30,"strokeWidth":1},
     "encoding":{
      "x":{"field":"d","type":"quantitative","axis":null},
      "y":{"field":"m","type":"quantitative","axis":{"values":[5,10,15,20,25],"labelOverlap":false,"title":"D","titleX":-25,"titleY":-25}},
      "color":{"field":"s","type":"nominal","legend":{"orient":"top-left","title":null,"offset":8,"labelExpr":"['VEH (M)','1 µg/mL (M)','10 µg/mL (M)','100 µg/mL (M)','VEH (F)','1 µg/mL (F)','10 µg/mL (F)','100 µg/mL (F)'][indexof(['a','b','c','d','e','f','g','h'],datum.value)]"}},
      "shape":{"field":"s","type":"nominal","scale":{"domain":["a","b","c","d","e","f","g","h"],"range":["circle","diamond","triangle-up","square","circle","diamond","triangle-up","square"]},
       "legend":{"orient":"top-left","title":null,"offset":8,"labelExpr":"['VEH (M)','1 µg/mL (M)','10 µg/mL (M)','100 µg/mL (M)','VEH (F)','1 µg/mL (F)','10 µg/mL (F)','100 µg/mL (F)'][indexof(['a','b','c','d','e','f','g','h'],datum.value)]"}}}}
   ]}
 ]},
 {"resolve":{"scale":{"color":"independent","shape":"independent","x":"independent","y":"independent"}},
  "spacing":7,
  "hconcat":[
  {"width":204,"height":134,"resolve":{"axis":{"x":"independent"}},
   "layer":[
    {"data":{"name":"Es"},"mark":{"type":"bar"},
     "encoding":{"x":{"field":"g","type":"nominal","scale":{"domain":["M|VEH","M|1","M|10","M|100","gap|","F|VEH","F|1","F|10","F|100"],"paddingInner":0.08,"paddingOuter":0.12},"axis":{"labelExpr":"split(datum.label,'|')[1]","title":"♂\u00a0\u00a0\u00a0\u00a0\u00a0\u00a0\u00a0\u00a0\u00a0\u00a0\u00a0\u00a0\u00a0\u00a0\u00a0\u00a0\u00a0\u00a0\u00a0\u00a0\u00a0\u00a0\u00a0\u00a0\u00a0\u00a0\u00a0\u00a0♀","titleFontSize":13,"titlePadding":1}},
      "y":{"field":"m","type":"quantitative","scale":{"domain":[5,10],"nice":false,"zero":false},"axis":{"values":[5,6,7,8,9,10],"labelOverlap":false,"title":"E","titleX":-16.5,"titleY":-24}},
      "y2":{"datum":5},
      "color":{"field":"g","type":"nominal","scale":{"domain":["M|VEH","M|1","M|10","M|100","F|VEH","F|1","F|10","F|100"],"range":["#98c2f3","#4f97f0","#0000ff","#0000b4","#f7a3a3","#f27777","#ff0000","#a30000"]},"legend":null}}},
    {"data":{"name":"Es"},"mark":{"type":"rule","strokeWidth":2,"color":"#111111"},"encoding":{"x":{"field":"g","type":"nominal","axis":{"orient":"top","labels":false,"ticks":false,"domain":false,"title":"PD 21 Weight (g)","titlePadding":9,"titleFontSize":10}},"y":{"field":"lo","type":"quantitative","axis":{"values":[5,6,7,8,9,10],"labelOverlap":false,"title":"E","titleX":-16.5,"titleY":-24}},"y2":{"field":"hi"}}},
    {"data":{"name":"Ep"},"mark":{"type":"point","filled":false,"size":36,"strokeWidth":1,"color":"#333333"},
     "encoding":{"x":{"field":"g","type":"nominal","axis":null},"xOffset":{"field":"k","type":"nominal","scale":{"domain":[0,1,2,3,4,5,6,7,8]}},"y":{"field":"v","type":"quantitative","axis":{"values":[5,6,7,8,9,10],"labelOverlap":false,"title":"E","titleX":-16.5,"titleY":-24}},
      "shape":{"field":"g","type":"nominal","scale":{"domain":["M|VEH","M|1","M|10","M|100","F|VEH","F|1","F|10","F|100"],"range":["circle","diamond","triangle-up","square","circle","diamond","triangle-up","square"]},"legend":null}}},
    {"data":{"name":"Em"},"transform":[{"filter":"datum.t=='*'"}],"mark":{"type":"text","fontSize":11,"baseline":"middle","color":"#222222"},"encoding":{"x":{"field":"g","type":"nominal","axis":null},"y":{"field":"y","type":"quantitative","axis":{"values":[5,6,7,8,9,10],"labelOverlap":false,"title":"E","titleX":-16.5,"titleY":-24}},"text":{"field":"t"}}},
    {"data":{"name":"Em"},"transform":[{"filter":"datum.t!='*'"}],"mark":{"type":"text","fontSize":11,"baseline":"middle","color":"#8a8a8a"},"encoding":{"x":{"field":"g","type":"nominal","axis":null},"y":{"field":"y","type":"quantitative","axis":{"values":[5,6,7,8,9,10],"labelOverlap":false,"title":"E","titleX":-16.5,"titleY":-24}},"text":{"field":"t"}}}
   ]},
  {"width":195,"height":134,"resolve":{"axis":{"x":"independent"}},
   "layer":[
    {"data":{"name":"Fs"},"mark":{"type":"bar"},
     "encoding":{"x":{"field":"g","type":"nominal","scale":{"domain":["M|VEH","M|1","M|10","M|100","gap|","F|VEH","F|1","F|10","F|100"],"paddingInner":0.08,"paddingOuter":0.12},"axis":{"labelExpr":"split(datum.label,'|')[1]","title":"♂\u00a0\u00a0\u00a0\u00a0\u00a0\u00a0\u00a0\u00a0\u00a0\u00a0\u00a0\u00a0\u00a0\u00a0\u00a0\u00a0\u00a0\u00a0\u00a0\u00a0\u00a0\u00a0\u00a0\u00a0\u00a0\u00a0\u00a0♀","titleFontSize":13,"titlePadding":1}},
      "y":{"field":"m","type":"quantitative","scale":{"domain":[12,22],"nice":false,"zero":false},"axis":{"values":[12,14,16,18,20,22],"labelOverlap":false,"title":"F","titleX":-25,"titleY":-24}},
      "y2":{"datum":12},
      "color":{"field":"g","type":"nominal","scale":{"domain":["M|VEH","M|1","M|10","M|100","F|VEH","F|1","F|10","F|100"],"range":["#98c2f3","#4f97f0","#0000ff","#0000b4","#f7a3a3","#f27777","#ff0000","#a30000"]},"legend":null}}},
    {"data":{"name":"Fs"},"mark":{"type":"rule","strokeWidth":2,"color":"#111111"},"encoding":{"x":{"field":"g","type":"nominal","axis":{"orient":"top","labels":false,"ticks":false,"domain":false,"title":"PD 35 Weight (g)","titlePadding":9,"titleFontSize":10}},"y":{"field":"lo","type":"quantitative","axis":{"values":[12,14,16,18,20,22],"labelOverlap":false,"title":"F","titleX":-25,"titleY":-24}},"y2":{"field":"hi"}}},
    {"data":{"name":"Fp"},"mark":{"type":"point","filled":false,"size":36,"strokeWidth":1,"color":"#333333"},
     "encoding":{"x":{"field":"g","type":"nominal","axis":null},"xOffset":{"field":"k","type":"nominal","scale":{"domain":[0,1,2,3,4,5,6,7,8]}},"y":{"field":"v","type":"quantitative","axis":{"values":[12,14,16,18,20,22],"labelOverlap":false,"title":"F","titleX":-25,"titleY":-24}},
      "shape":{"field":"g","type":"nominal","scale":{"domain":["M|VEH","M|1","M|10","M|100","F|VEH","F|1","F|10","F|100"],"range":["circle","diamond","triangle-up","square","circle","diamond","triangle-up","square"]},"legend":null}}},
    {"data":{"name":"Fm"},"transform":[{"filter":"datum.t=='*'"}],"mark":{"type":"text","fontSize":11,"baseline":"middle","color":"#222222"},"encoding":{"x":{"field":"g","type":"nominal","axis":null},"y":{"field":"y","type":"quantitative","axis":{"values":[12,14,16,18,20,22],"labelOverlap":false,"title":"F","titleX":-25,"titleY":-24}},"text":{"field":"t"}}},
    {"data":{"name":"Fm"},"transform":[{"filter":"datum.t!='*'"}],"mark":{"type":"text","fontSize":11,"baseline":"middle","color":"#8a8a8a"},"encoding":{"x":{"field":"g","type":"nominal","axis":null},"y":{"field":"y","type":"quantitative","axis":{"values":[12,14,16,18,20,22],"labelOverlap":false,"title":"F","titleX":-25,"titleY":-24}},"text":{"field":"t"}}}
   ]},
  {"width":199,"height":134,"resolve":{"axis":{"x":"independent"}},
   "layer":[
    {"data":{"name":"Gs"},"mark":{"type":"bar"},
     "encoding":{"x":{"field":"g","type":"nominal","scale":{"domain":["M|VEH","M|1","M|10","M|100","gap|","F|VEH","F|1","F|10","F|100"],"paddingInner":0.08,"paddingOuter":0.12},"axis":{"labelExpr":"split(datum.label,'|')[1]","title":"♂\u00a0\u00a0\u00a0\u00a0\u00a0\u00a0\u00a0\u00a0\u00a0\u00a0\u00a0\u00a0\u00a0\u00a0\u00a0\u00a0\u00a0\u00a0\u00a0\u00a0\u00a0\u00a0\u00a0\u00a0\u00a0\u00a0\u00a0♀","titleFontSize":13,"titlePadding":1}},
      "y":{"field":"m","type":"quantitative","scale":{"domain":[14,24],"nice":false,"zero":false},"axis":{"values":[14,16,18,20,22,24],"labelOverlap":false,"title":"G","titleX":-27,"titleY":-24}},
      "y2":{"datum":14},
      "color":{"field":"g","type":"nominal","scale":{"domain":["M|VEH","M|1","M|10","M|100","F|VEH","F|1","F|10","F|100"],"range":["#c8dcf5","#5fa0f1","#1414ff","#0000c8","#fbd6d6","#f7a9a9","#f24b4b","#ff0000"]},"legend":null}}},
    {"data":{"name":"Gs"},"mark":{"type":"rule","strokeWidth":2,"color":"#111111"},"encoding":{"x":{"field":"g","type":"nominal","axis":{"orient":"top","labels":false,"ticks":false,"domain":false,"title":"PD 55 Weight (g)","titlePadding":9,"titleFontSize":10}},"y":{"field":"lo","type":"quantitative","axis":{"values":[14,16,18,20,22,24],"labelOverlap":false,"title":"G","titleX":-27,"titleY":-24}},"y2":{"field":"hi"}}},
    {"data":{"name":"Gp"},"mark":{"type":"point","filled":false,"size":36,"strokeWidth":1,"color":"#333333"},
     "encoding":{"x":{"field":"g","type":"nominal","axis":null},"xOffset":{"field":"k","type":"nominal","scale":{"domain":[0,1,2,3,4,5,6,7,8]}},"y":{"field":"v","type":"quantitative","axis":{"values":[14,16,18,20,22,24],"labelOverlap":false,"title":"G","titleX":-27,"titleY":-24}},
      "shape":{"field":"g","type":"nominal","scale":{"domain":["M|VEH","M|1","M|10","M|100","F|VEH","F|1","F|10","F|100"],"range":["circle","diamond","triangle-up","square","circle","diamond","triangle-up","square"]},"legend":null}}},
    {"data":{"name":"Gm"},"mark":{"type":"text","fontSize":11,"baseline":"middle","color":"#8a8a8a"},"encoding":{"x":{"field":"g","type":"nominal","axis":null},"y":{"field":"y","type":"quantitative","axis":{"values":[14,16,18,20,22,24],"labelOverlap":false,"title":"G","titleX":-27,"titleY":-24}},"text":{"field":"t"}}}
   ]}
 ]},
 {"resolve":{"scale":{"color":"independent","shape":"independent","x":"independent","y":"independent"}},
  "spacing":7,
  "hconcat":[
  {"width":199,"height":135,"resolve":{"axis":{"x":"independent"}},
   "layer":[
    {"data":{"name":"Hs"},"mark":{"type":"bar"},
     "encoding":{"x":{"field":"g","type":"nominal","scale":{"domain":["M|VEH","M|1","M|10","M|100","gap|","F|VEH","F|1","F|10","F|100"],"paddingInner":0.08,"paddingOuter":0.12},"axis":{"labelExpr":"split(datum.label,'|')[1]","title":"♂\u00a0\u00a0\u00a0\u00a0\u00a0\u00a0\u00a0\u00a0\u00a0\u00a0\u00a0\u00a0\u00a0\u00a0\u00a0\u00a0\u00a0\u00a0\u00a0\u00a0\u00a0\u00a0\u00a0\u00a0\u00a0\u00a0\u00a0♀","titleFontSize":13,"titlePadding":1}},
      "y":{"field":"m","type":"quantitative","scale":{"domain":[-3.3,50],"nice":false,"zero":false},"axis":{"values":[0,10,20,30,40,50],"labelOverlap":false,"title":"H","titleX":-16.5,"titleY":-24}},
      "y2":{"datum":-3.3},
      "color":{"field":"g","type":"nominal","scale":{"domain":["M|VEH","M|1","M|10","M|100","F|VEH","F|1","F|10","F|100"],"range":["#98c2f3","#4f97f0","#0000ff","#0000b4","#f7a3a3","#f27777","#ff0000","#a30000"]},"legend":null}}},
    {"data":{"name":"Hs"},"mark":{"type":"rule","strokeWidth":2,"color":"#111111"},"encoding":{"x":{"field":"g","type":"nominal","axis":{"orient":"top","labels":false,"ticks":false,"domain":false,"title":"Spontaneous Somatic Withdrawal Score","titlePadding":9,"titleFontSize":10}},"y":{"field":"lo","type":"quantitative","axis":{"values":[0,10,20,30,40,50],"labelOverlap":false,"title":"H","titleX":-16.5,"titleY":-24}},"y2":{"field":"hi"}}},
    {"data":{"name":"Hp"},"mark":{"type":"point","filled":false,"size":36,"strokeWidth":1,"color":"#b0b0b0"},
     "encoding":{"x":{"field":"g","type":"nominal","axis":null},"xOffset":{"field":"k","type":"nominal","scale":{"domain":[0,1,2,3,4,5,6,7,8]}},"y":{"field":"v","type":"quantitative","axis":{"values":[0,10,20,30,40,50],"labelOverlap":false,"title":"H","titleX":-16.5,"titleY":-24}},
      "shape":{"field":"g","type":"nominal","scale":{"domain":["M|VEH","M|1","M|10","M|100","F|VEH","F|1","F|10","F|100"],"range":["circle","diamond","triangle-up","square","circle","diamond","triangle-up","square"]},"legend":null}}},
    {"data":{"name":"Hm"},"transform":[{"filter":"datum.t=='*'"}],"mark":{"type":"text","fontSize":11,"baseline":"middle","color":"#222222"},"encoding":{"x":{"field":"g","type":"nominal","axis":null},"y":{"field":"y","type":"quantitative","axis":{"values":[0,10,20,30,40,50],"labelOverlap":false,"title":"H","titleX":-16.5,"titleY":-24}},"text":{"field":"t"}}},
    {"data":{"name":"Hm"},"transform":[{"filter":"datum.t!='*'"}],"mark":{"type":"text","fontSize":11,"baseline":"middle","color":"#8a8a8a"},"encoding":{"x":{"field":"g","type":"nominal","axis":null},"y":{"field":"y","type":"quantitative","axis":{"values":[0,10,20,30,40,50],"labelOverlap":false,"title":"H","titleX":-16.5,"titleY":-24}},"text":{"field":"t"}}}
   ]},
  {"width":200,"height":134,"resolve":{"axis":{"x":"independent"}},
   "layer":[
    {"data":{"name":"Is"},"mark":{"type":"bar"},
     "encoding":{"x":{"field":"g","type":"nominal","scale":{"domain":["M|VEH","M|1","M|10","M|100","gap|","F|VEH","F|1","F|10","F|100"],"paddingInner":0.08,"paddingOuter":0.12},"axis":{"labelExpr":"split(datum.label,'|')[1]","title":"♂\u00a0\u00a0\u00a0\u00a0\u00a0\u00a0\u00a0\u00a0\u00a0\u00a0\u00a0\u00a0\u00a0\u00a0\u00a0\u00a0\u00a0\u00a0\u00a0\u00a0\u00a0\u00a0\u00a0\u00a0\u00a0\u00a0\u00a0♀","titleFontSize":13,"titlePadding":1}},
      "y":{"field":"m","type":"quantitative","scale":{"domain":[0,20],"nice":false,"zero":false},"axis":{"values":[0,5,10,15,20],"labelOverlap":false,"title":"I","titleX":-21,"titleY":-24}},
      "y2":{"datum":0},
      "color":{"field":"g","type":"nominal","scale":{"domain":["M|VEH","M|1","M|10","M|100","F|VEH","F|1","F|10","F|100"],"range":["#98c2f3","#4f97f0","#0000ff","#0000b4","#f7a3a3","#f27777","#ff0000","#a30000"]},"legend":null}}},
    {"data":{"name":"Is"},"mark":{"type":"rule","strokeWidth":2,"color":"#111111"},"encoding":{"x":{"field":"g","type":"nominal","axis":{"orient":"top","labels":false,"ticks":false,"domain":false,"title":"Sensory Adaptation (# of responses)","titlePadding":9,"titleFontSize":10}},"y":{"field":"lo","type":"quantitative","axis":{"values":[0,5,10,15,20],"labelOverlap":false,"title":"I","titleX":-21,"titleY":-24}},"y2":{"field":"hi"}}},
    {"data":{"name":"Ip"},"mark":{"type":"point","filled":false,"size":36,"strokeWidth":1,"color":"#333333"},
     "encoding":{"x":{"field":"g","type":"nominal","axis":null},"xOffset":{"field":"k","type":"nominal","scale":{"domain":[0,1,2,3,4,5,6,7,8]}},"y":{"field":"v","type":"quantitative","axis":{"values":[0,5,10,15,20],"labelOverlap":false,"title":"I","titleX":-21,"titleY":-24}},
      "shape":{"field":"g","type":"nominal","scale":{"domain":["M|VEH","M|1","M|10","M|100","F|VEH","F|1","F|10","F|100"],"range":["circle","diamond","triangle-up","square","circle","diamond","triangle-up","square"]},"legend":null}}},
    {"data":{"name":"Im"},"mark":{"type":"text","fontSize":11,"baseline":"middle","color":"#222222"},"encoding":{"x":{"field":"g","type":"nominal","axis":null},"y":{"field":"y","type":"quantitative","axis":{"values":[0,5,10,15,20],"labelOverlap":false,"title":"I","titleX":-21,"titleY":-24}},"text":{"field":"t"}}}
   ]},
  {"width":202,"height":134,"resolve":{"axis":{"x":"independent"}},
   "layer":[
    {"data":{"name":"Js"},"mark":{"type":"bar"},
     "encoding":{"x":{"field":"g","type":"nominal","scale":{"domain":["M|VEH","M|1","M|10","M|100","gap|","F|VEH","F|1","F|10","F|100"],"paddingInner":0.08,"paddingOuter":0.12},"axis":{"labelExpr":"split(datum.label,'|')[1]","title":"♂\u00a0\u00a0\u00a0\u00a0\u00a0\u00a0\u00a0\u00a0\u00a0\u00a0\u00a0\u00a0\u00a0\u00a0\u00a0\u00a0\u00a0\u00a0\u00a0\u00a0\u00a0\u00a0\u00a0\u00a0\u00a0\u00a0\u00a0\u00a0♀","titleFontSize":13,"titlePadding":1}},
      "y":{"field":"m","type":"quantitative","scale":{"domain":[0,2],"nice":false,"zero":false},"axis":{"values":[0,0.5,1,1.5,2],"labelOverlap":false,"format":".1f","title":"J","titleX":-26,"titleY":-24}},
      "y2":{"datum":0},
      "color":{"field":"g","type":"nominal","scale":{"domain":["M|VEH","M|1","M|10","M|100","F|VEH","F|1","F|10","F|100"],"range":["#98c2f3","#4f97f0","#0000ff","#0000b4","#f7a3a3","#f27777","#ff0000","#a30000"]},"legend":null}}},
    {"data":{"name":"Js"},"mark":{"type":"rule","strokeWidth":2,"color":"#111111"},"encoding":{"x":{"field":"g","type":"nominal","axis":{"orient":"top","labels":false,"ticks":false,"domain":false,"title":"Paw Withdrawal Threshold (g)","titlePadding":9,"titleFontSize":10}},"y":{"field":"lo","type":"quantitative","axis":{"values":[0,0.5,1,1.5,2],"labelOverlap":false,"format":".1f","title":"J","titleX":-26,"titleY":-24}},"y2":{"field":"hi"}}},
    {"data":{"name":"Jp"},"mark":{"type":"point","filled":false,"size":36,"strokeWidth":1,"color":"#333333"},
     "encoding":{"x":{"field":"g","type":"nominal","axis":null},"xOffset":{"field":"k","type":"nominal","scale":{"domain":[0,1,2,3,4,5,6,7,8]}},"y":{"field":"v","type":"quantitative","axis":{"values":[0,0.5,1,1.5,2],"labelOverlap":false,"format":".1f","title":"J","titleX":-26,"titleY":-24}},
      "shape":{"field":"g","type":"nominal","scale":{"domain":["M|VEH","M|1","M|10","M|100","F|VEH","F|1","F|10","F|100"],"range":["circle","diamond","triangle-up","square","circle","diamond","triangle-up","square"]},"legend":null}}}
   ]}
 ]}
]
}
